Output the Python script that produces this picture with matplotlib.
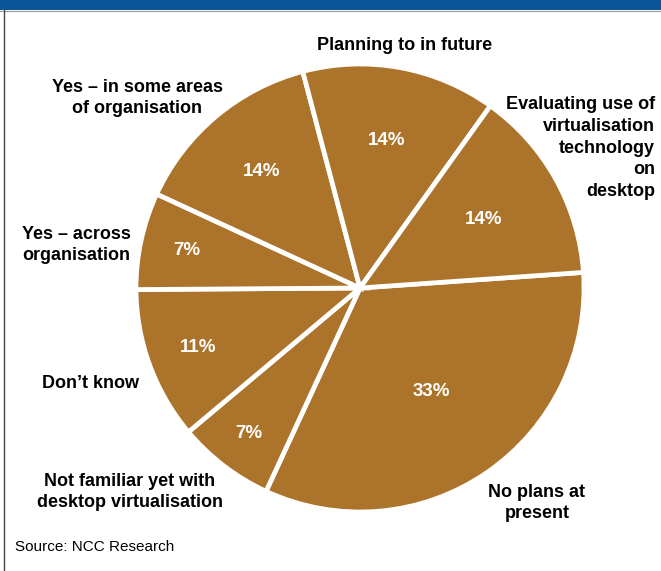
import numpy as np
import matplotlib
matplotlib.use("Agg")
import matplotlib.pyplot as plt
from matplotlib.patches import Rectangle
from matplotlib.lines import Line2D

plt.rcParams['font.family'] = ['Liberation Sans Narrow', 'Liberation Sans', 'DejaVu Sans']

# Survey shares, clockwise from the right-hand side
categories = [
    "No plans at\npresent",
    "Not familiar yet with\ndesktop virtualisation",
    "Don\u2019t know",
    "Yes \u2013 across\norganisation",
    "Yes \u2013 in some areas\nof organisation",
    "Planning to in future",
    "Evaluating use of\nvirtualisation\ntechnology\non\ndesktop",
]
values = [33, 7, 11, 7, 14, 14, 14]
pct_labels = ["33%", "7%", "11%", "7%", "14%", "14%", "14%"]
source = "Source: NCC Research"

W, H, DPI = 661, 571, 100
CX, CY, R = 360, 288, 224  # pie centre and radius in pixels


def px(x, y):
    """Convert pixel coordinates (origin top-left) to data units."""
    return (x - CX) / R, (CY - y) / R


fig = plt.figure(figsize=(W / DPI, H / DPI), dpi=DPI)
ax = fig.add_axes([0, 0, 1, 1])
ax.axis("off")

brown = "#AC742A"
wedges, _ = ax.pie(values, colors=[brown] * len(values), startangle=4,
                   counterclock=False, radius=1, center=(0, 0),
                   wedgeprops=dict(edgecolor="white", linewidth=3.4))
ax.set_aspect("auto")
ax.set_xlim(px(0, 0)[0], px(W, 0)[0])
ax.set_ylim(px(0, H)[1], px(0, 0)[1])

# percentage labels inside the wedges
pct_radius = [0.56, 0.82, 0.77, 0.79, 0.68, 0.67, 0.63]
for w, lab, rf in zip(wedges, pct_labels, pct_radius):
    mid = np.deg2rad((w.theta1 + w.theta2) / 2)
    ax.text(rf * np.cos(mid), rf * np.sin(mid), lab, color="white",
            fontsize=13.5, fontweight="bold", ha="center", va="center")

# category labels around the pie
label_pos = [
    (537, 503, "center"),
    (130, 492, "center"),
    (91, 383, "center"),
    (76, 245, "center"),
    (137, 98, "center"),
    (405, 45, "center"),
    (655, 148, "right"),
]
for cat, (x, y, ha) in zip(categories, label_pos):
    tx, ty = px(x, y)
    ax.text(tx, ty, cat, fontsize=13, fontweight="bold", ha=ha, va="center",
            multialignment=ha, linespacing=1.38, color="black")

sx, sy = px(15, 547)
ax.text(sx, sy, source, fontsize=11, ha="left", va="center", color="black")

# header band and frame edge
fig.patches.append(Rectangle((0, 1 - 10 / H), 1, 10 / H, transform=fig.transFigure,
                             facecolor="#0B5699", edgecolor="none"))
fig.lines.append(Line2D([0, 1], [1 - 10.5 / H] * 2, transform=fig.transFigure,
                        color="#9a9a9a", linewidth=0.8))
fig.lines.append(Line2D([3.5 / W] * 2, [0, 1 - 10 / H], transform=fig.transFigure,
                        color="#444444", linewidth=1.0))

fig.savefig("out.png", dpi=DPI)
